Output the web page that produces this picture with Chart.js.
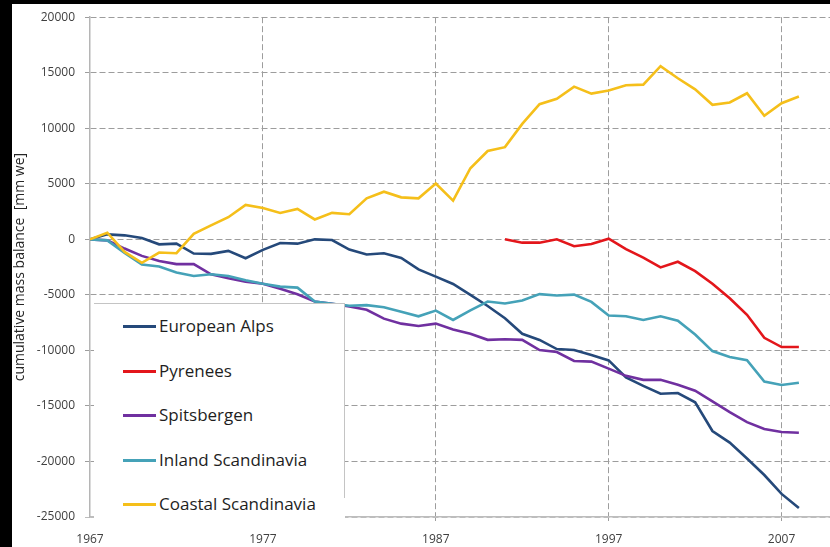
<!DOCTYPE html>
<html>
<head>
<meta charset="utf-8">
<script src="https://cdn.jsdelivr.net/npm/chart.js@4.4.1/dist/chart.umd.min.js"></script>
<style>
  html, body { margin: 0; padding: 0; background: #fff; }
  #wrap { position: relative; width: 830px; height: 547px; overflow: hidden; }
  #chart { position: absolute; left: 0; top: 0; }
  .band { position: absolute; background: #000; }
  #legend-foot { position: absolute; left: 94px; top: 497px; width: 251px; height: 24px; background: #fff; }
  #legend {
    position: absolute; left: 94px; top: 303px; width: 250px; height: 194px;
    background: #fff; border-top: 1px solid #c4c4c4; border-right: 1px solid #c4c4c4;
  }
  .item { position: absolute; left: 0; height: 22px; font: 17px "Open Sans", sans-serif; color: #1e1e1e; }
  .item .swatch { position: absolute; left: 29px; top: 10px; width: 33px; height: 3px; }
  .item .name { position: absolute; left: 65px; top: 0; white-space: nowrap; line-height: 22px; }
</style>
</head>
<body>
<div id="wrap">
  <canvas id="chart" width="830" height="547"></canvas>
  <div id="legend-foot"></div>
  <div id="legend"></div>
  <div class="band" style="left:0;top:0;width:830px;height:4px"></div>
  <div class="band" style="left:0;top:0;width:12px;height:547px"></div>
</div>
<script>
// ── data ──
const years = [1967, 1968, 1969, 1970, 1971, 1972, 1973, 1974, 1975, 1976,
  1977, 1978, 1979, 1980, 1981, 1982, 1983, 1984, 1985, 1986,
  1987, 1988, 1989, 1990, 1991, 1992, 1993, 1994, 1995, 1996,
  1997, 1998, 1999, 2000, 2001, 2002, 2003, 2004, 2005, 2006,
  2007, 2008];

const alps = [0, 450, 360, 120, -450, -390, -1280, -1310, -1040, -1700,
  -950, -330, -390, 0, -60, -920, -1370, -1250, -1670, -2710,
  -3360, -4020, -5000, -6000, -7100, -8500, -9060, -9880, -9970, -10420,
  -10900, -12440, -13190, -13900, -13840, -14670, -17260, -18300, -19730, -21220,
  -22920, -24200];

const pyrenees = [null, null, null, null, null, null, null, null, null, null,
  null, null, null, null, null, null, null, null, null, null,
  null, null, null, null, 0, -300, -300, 0, -620, -420,
  60, -890, -1640, -2530, -2020, -2860, -4000, -5300, -6790, -8870,
  -9700, -9700];

const spitsbergen = [0, -90, -830, -1490, -1960, -2230, -2230, -3150, -3510, -3810,
  -4000, -4460, -4940, -5600, -5800, -6040, -6340, -7140, -7590, -7800,
  -7590, -8120, -8510, -9050, -8990, -9050, -9970, -10150, -10950, -11010,
  -11640, -12290, -12650, -12650, -13100, -13630, -14580, -15560, -16460, -17080,
  -17350, -17410];

const inland = [0, -90, -1220, -2260, -2440, -2980, -3300, -3150, -3300, -3690,
  -4000, -4260, -4350, -5600, -5800, -5980, -5920, -6110, -6520, -6930,
  -6420, -7260, -6400, -5600, -5780, -5500, -4930, -5060, -4980, -5630,
  -6860, -6930, -7260, -6930, -7320, -8570, -10060, -10600, -10890, -12800,
  -13120, -12920];

const coastal = [0, 600, -1130, -2110, -1190, -1250, 500, 1250, 1990, 3100,
  2820, 2380, 2740, 1790, 2380, 2260, 3690, 4290, 3780, 3690,
  5030, 3480, 6400, 7950, 8300, 10390, 12170, 12650, 13750, 13120,
  13400, 13870, 13930, 15590, 14500, 13510, 12110, 12320, 13150, 11130,
  12260, 12860];

const seriesNames = ["European Alps", "Pyrenees", "Spitsbergen", "Inland Scandinavia", "Coastal Scandinavia"];
const seriesColors = ["#25497a", "#e3161b", "#7030a0", "#45a2b8", "#f5bf1a"];
const seriesValues = [alps, pyrenees, spitsbergen, inland, coastal];

const xTicks = [1967, 1977, 1987, 1997, 2007];
const yTitle = "cumulative mass balance  [mm we]";

// ── chart ──
const FONT = "'Open Sans', sans-serif";
const GRID = "#9d9d9d";
const DASH = [6, 3];

const datasets = seriesNames.map((name, i) => ({
  label: name,
  data: seriesValues[i],
  borderColor: seriesColors[i],
  backgroundColor: seriesColors[i],
  borderWidth: 2.6,
  pointRadius: 0,
  tension: 0,
  spanGaps: false,
  order: seriesNames.length - i,
}));

new Chart(document.getElementById("chart"), {
  type: "line",
  data: { labels: years, datasets },
  options: {
    responsive: false,
    animation: false,
    layout: { padding: { top: 14, left: 0, right: 0, bottom: 0 } },
    plugins: { legend: { display: false }, tooltip: { enabled: false } },
    scales: {
      x: {
        type: "linear",
        min: 1967,
        max: 2009.8,
        afterBuildTicks: (scale) => { scale.ticks = xTicks.map((v) => ({ value: v })); },
        afterFit: (scale) => { scale.height = 30; },
        ticks: {
          autoSkip: false,
          maxRotation: 0,
          padding: 11,
          color: "#404040",
          font: { family: FONT, size: 12 },
          callback: (v) => String(v),
        },
        grid: {
          color: (c) => (c.tick && c.tick.value === 1967 ? "rgba(0,0,0,0)" : GRID),
          tickLength: 4,
          lineWidth: 1,
        },
        border: { display: true, color: "#bdbdbd", width: 1.5, dash: DASH },
      },
      y: {
        min: -25000,
        max: 20000,
        afterFit: (scale) => { scale.width = 90; },
        ticks: {
          stepSize: 5000,
          padding: 10,
          color: "#404040",
          font: { family: FONT, size: 12 },
          callback: (v) => String(v),
        },
        grid: {
          color: (c) => (c.tick && c.tick.value === -25000 ? "#bdbdbd" : GRID),
          tickLength: 5,
          lineWidth: 1,
        },
        border: { display: true, color: "#b5b5b5", width: 1.5, dash: DASH },
        title: {
          display: true,
          text: yTitle,
          color: "#262626",
          font: { family: FONT, size: 14 },
          padding: { top: 12, bottom: 0 },
        },
      },
    },
  },
});

// ── legend box (drawn over the lower-left of the plot, like the original) ──
const legendRows = [22, 67, 111, 156, 200];
const legend = document.getElementById("legend");
seriesNames.forEach((name, i) => {
  const row = document.createElement("div");
  row.className = "item";
  row.style.top = (legendRows[i] - 11) + "px";
  row.innerHTML = `<span class="swatch" style="background:${seriesColors[i]}"></span><span class="name">${name}</span>`;
  legend.appendChild(row);
});
</script>
</body>
</html>
